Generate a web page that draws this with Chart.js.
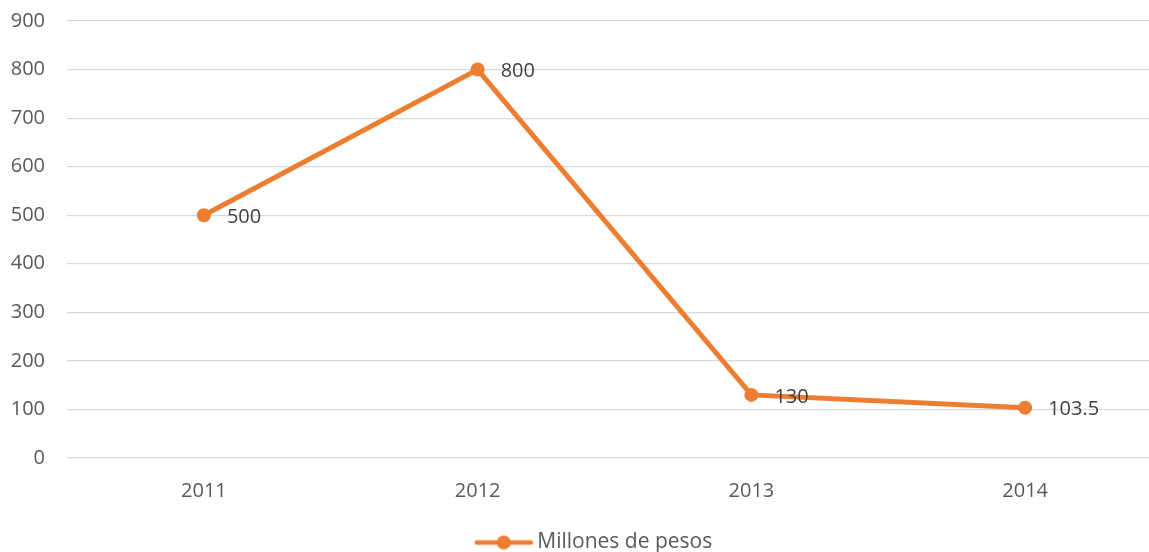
<!DOCTYPE html>
<html>
<head>
<meta charset="utf-8">
<script src="https://cdn.jsdelivr.net/npm/chart.js@4"></script>
<style>
  html, body { margin: 0; padding: 0; background: #fff; overflow: hidden; }
  #wrap { width: 1169px; height: 552px; }
</style>
</head>
<body>
<div id="wrap"><canvas id="chart" width="1169" height="552"></canvas></div>
<script>
// --- data ---
const years = ['2011', '2012', '2013', '2014'];
const pesos = [500, 800, 130, 103.5];
const seriesName = 'Millones de pesos';

const orange = '#ED7D31';
const tickColor = '#595959';
const labelFont = { family: "'Open Sans', sans-serif", size: 20 };

// legend marker: line with a dot, drawn once on a small canvas
const marker = document.createElement('canvas');
marker.width = 60; marker.height = 16;
(() => {
    const c = marker.getContext('2d');
    c.strokeStyle = orange;
    c.lineWidth = 4.5;
    c.lineCap = 'round';
    c.beginPath(); c.moveTo(3, 8); c.lineTo(57, 8); c.stroke();
    c.fillStyle = orange;
    c.beginPath(); c.arc(30, 8, 7, 0, Math.PI * 2); c.fill();
})();

// value labels to the right of each point
const valueLabels = {
    id: 'valueLabels',
    afterDatasetsDraw(chart) {
        const ctx = chart.ctx;
        const meta = chart.getDatasetMeta(0);
        ctx.save();
        ctx.font = `${labelFont.size}px ${labelFont.family}`;
        ctx.fillStyle = '#404040';
        ctx.textAlign = 'left';
        ctx.textBaseline = 'middle';
        meta.data.forEach((pt, i) => {
            ctx.fillText(String(pesos[i]), pt.x + 23, pt.y + 2);
        });
        ctx.restore();
    }
};

// canvas is a bit wider than the window, so nudge the legend to the visible centre
const legendShift = {
    id: 'legendShift',
    afterLayout(chart) {
        if (chart.legend) {
            chart.legend.left += 12;
            chart.legend.right += 12;
        }
    }
};

new Chart(document.getElementById('chart'), {
    type: 'line',
    data: {
        labels: years,
        datasets: [{
            label: seriesName,
            data: pesos,
            borderColor: orange,
            backgroundColor: orange,
            borderWidth: 5,
            pointRadius: 7,
            pointHoverRadius: 7,
            pointBackgroundColor: orange,
            pointBorderWidth: 0,
            tension: 0
        }]
    },
    options: {
        responsive: false,
        animation: false,
        layout: { padding: { top: 21, right: 0, bottom: -11, left: 0 } },
        plugins: {
            legend: {
                position: 'bottom',
                labels: {
                    usePointStyle: true,
                    pointStyle: marker,
                    pointStyleWidth: 46,
                    color: tickColor,
                    font: { family: labelFont.family, size: 21 },
                    padding: 4
                }
            },
            tooltip: { enabled: false }
        },
        scales: {
            x: {
                offset: true,
                grid: { display: false },
                border: { display: false },
                ticks: { color: tickColor, font: labelFont, padding: 13 },
                afterFit: s => { s.height = 70; }
            },
            y: {
                min: 0,
                max: 900,
                ticks: { stepSize: 100, color: tickColor, font: labelFont, padding: 22 },
                grid: { color: '#d9d9d9', lineWidth: 1.2, drawTicks: false },
                border: { display: false },
                afterFit: s => { s.width = 67; s.paddingTop = 0; s.paddingBottom = 0; }
            }
        }
    },
    plugins: [valueLabels, legendShift]
});
</script>
</body>
</html>
